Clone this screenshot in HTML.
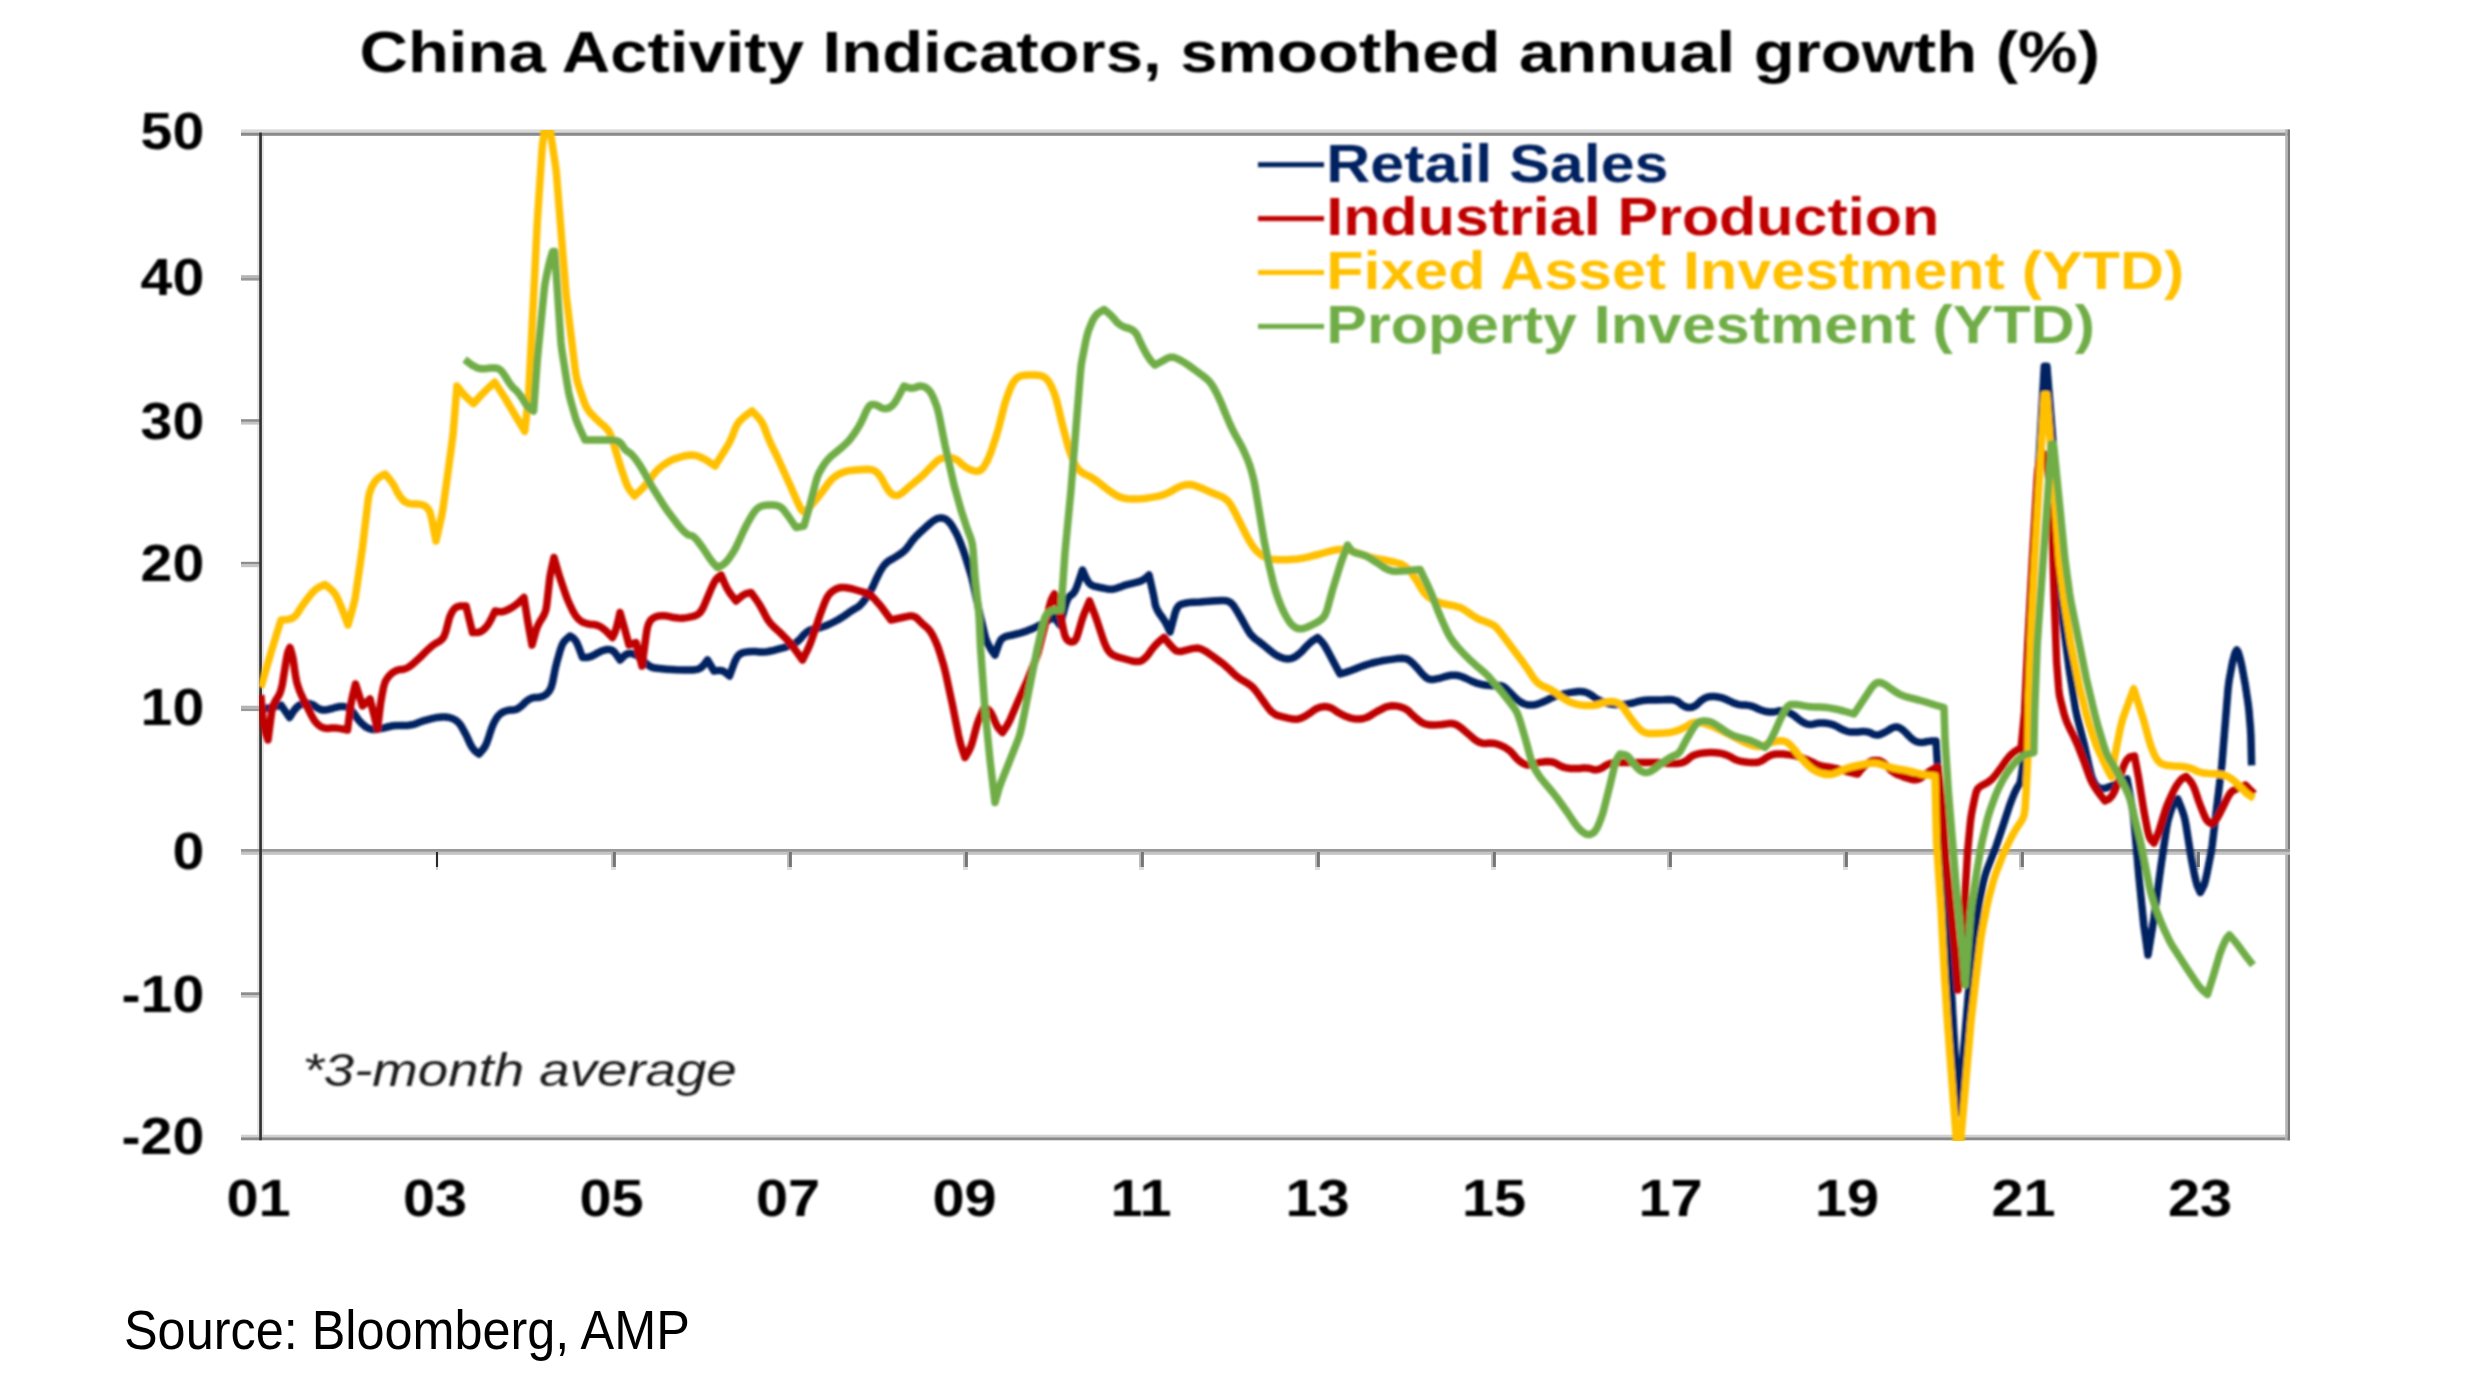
<!DOCTYPE html>
<html><head><meta charset="utf-8"><title>China Activity Indicators</title>
<style>
html,body{margin:0;padding:0;background:#fff;}
body{width:2480px;height:1395px;overflow:hidden;font-family:"Liberation Sans",sans-serif;}
svg{display:block;position:absolute;left:0;top:0;}
</style></head><body>
<svg width="2480" height="1395" viewBox="0 0 2480 1395">
<defs>
<clipPath id="plot"><rect x="259.2" y="130" width="2036" height="1011"/></clipPath>
<filter id="soft" x="-2%" y="-2%" width="104%" height="104%"><feGaussianBlur stdDeviation="1.2"/></filter>
<filter id="softa" x="-2%" y="-2%" width="104%" height="104%"><feGaussianBlur stdDeviation="0.45"/></filter>
<filter id="softt" x="-2%" y="-20%" width="104%" height="140%"><feGaussianBlur stdDeviation="1.3"/></filter>
</defs>
<rect width="2480" height="1395" fill="#ffffff"/>
<g>

</g><g filter="url(#softa)">
<rect x="257.1" y="135" width="6.8" height="1003" fill="#e4e4e4"/>
<rect x="241" y="129.4" width="2049" height="3.2" fill="#d8d8d8"/>
<rect x="241" y="132.6" width="2049" height="3.2" fill="#8a8a8a"/>
<rect x="241" y="1134.7" width="2049" height="2.6" fill="#d0d0d0"/>
<rect x="241" y="1137.3" width="2049" height="3" fill="#8a8a8a"/>
<rect x="2285.2" y="129.4" width="2.5" height="1010.9" fill="#b4b4b4"/>
<rect x="2287.7" y="129.4" width="2.3" height="1010.9" fill="#7a7a7a"/>
<rect x="241" y="849" width="2049" height="2.9" fill="#999999"/>
<rect x="241" y="851.9" width="2049" height="2.9" fill="#c4c4c4"/>
<rect x="241" y="275.2" width="20" height="2.7" fill="#b4b4b4"/>
<rect x="241" y="277.9" width="20" height="2.7" fill="#9a9a9a"/>
<rect x="241" y="419.2" width="20" height="2.7" fill="#8c8c8c"/>
<rect x="241" y="421.9" width="20" height="2.7" fill="#c4c4c4"/>
<rect x="241" y="561.8" width="20" height="2.7" fill="#8c8c8c"/>
<rect x="241" y="564.5" width="20" height="2.7" fill="#c4c4c4"/>
<rect x="241" y="705.7" width="20" height="2.7" fill="#b4b4b4"/>
<rect x="241" y="708.4" width="20" height="2.7" fill="#9a9a9a"/>
<rect x="241" y="992.3" width="20" height="2.7" fill="#8c8c8c"/>
<rect x="241" y="995.0" width="20" height="2.7" fill="#c4c4c4"/>
<rect x="435.95" y="852" width="2.1" height="15" fill="#2c2c2c"/>
<rect x="435.95" y="867" width="2.1" height="3" fill="#cccccc"/>
<rect x="611.10" y="852" width="1.9" height="15" fill="#b8b8b8"/>
<rect x="613.00" y="852" width="2.9" height="15" fill="#757575"/>
<rect x="611.10" y="867" width="4.8" height="3" fill="#dddddd"/>
<rect x="787.10" y="852" width="1.9" height="15" fill="#b8b8b8"/>
<rect x="789.00" y="852" width="2.9" height="15" fill="#757575"/>
<rect x="787.10" y="867" width="4.8" height="3" fill="#dddddd"/>
<rect x="963.10" y="852" width="1.9" height="15" fill="#b8b8b8"/>
<rect x="965.00" y="852" width="2.9" height="15" fill="#757575"/>
<rect x="963.10" y="867" width="4.8" height="3" fill="#dddddd"/>
<rect x="1139.10" y="852" width="1.9" height="15" fill="#b8b8b8"/>
<rect x="1141.00" y="852" width="2.9" height="15" fill="#757575"/>
<rect x="1139.10" y="867" width="4.8" height="3" fill="#dddddd"/>
<rect x="1315.10" y="852" width="1.9" height="15" fill="#b8b8b8"/>
<rect x="1317.00" y="852" width="2.9" height="15" fill="#757575"/>
<rect x="1315.10" y="867" width="4.8" height="3" fill="#dddddd"/>
<rect x="1491.10" y="852" width="1.9" height="15" fill="#b8b8b8"/>
<rect x="1493.00" y="852" width="2.9" height="15" fill="#757575"/>
<rect x="1491.10" y="867" width="4.8" height="3" fill="#dddddd"/>
<rect x="1667.10" y="852" width="1.9" height="15" fill="#b8b8b8"/>
<rect x="1669.00" y="852" width="2.9" height="15" fill="#757575"/>
<rect x="1667.10" y="867" width="4.8" height="3" fill="#dddddd"/>
<rect x="1843.10" y="852" width="1.9" height="15" fill="#b8b8b8"/>
<rect x="1845.00" y="852" width="2.9" height="15" fill="#757575"/>
<rect x="1843.10" y="867" width="4.8" height="3" fill="#dddddd"/>
<rect x="2019.10" y="852" width="1.9" height="15" fill="#b8b8b8"/>
<rect x="2021.00" y="852" width="2.9" height="15" fill="#757575"/>
<rect x="2019.10" y="867" width="4.8" height="3" fill="#dddddd"/>
<rect x="2195.10" y="852" width="1.9" height="15" fill="#b8b8b8"/>
<rect x="2197.00" y="852" width="2.9" height="15" fill="#757575"/>
<rect x="2195.10" y="867" width="4.8" height="3" fill="#dddddd"/>
<rect x="259.2" y="132.6" width="2.7" height="1007.7" fill="#333333"/>
</g>
<g clip-path="url(#plot)"><g filter="url(#soft)" fill="none" stroke-linejoin="round" stroke-linecap="butt" stroke-width="7.5">
<polyline stroke="#002060" points="260.8,709.0 267.4,708.2 270.8,707.6 273.4,707.1 276.2,706.4 281.0,705.0 289.5,717.5 294.0,710.5 296.8,707.2 299.3,705.3 302.2,704.1 305.3,703.4 308.3,703.4 311.1,704.1 313.8,705.3 316.2,707.2 318.6,708.6 320.8,709.5 322.8,710.0 324.7,710.0 326.9,709.8 329.4,709.2 332.2,708.5 335.3,707.5 338.3,706.8 341.1,706.5 343.8,706.6 346.2,706.9 348.7,708.1 351.0,709.9 353.6,712.9 356.4,717.1 359.0,720.5 361.3,723.1 363.8,725.3 366.2,727.2 368.8,728.5 371.2,729.3 373.8,729.6 376.2,729.4 379.1,728.9 382.2,728.3 385.6,727.5 389.4,726.5 393.1,725.8 396.9,725.4 400.6,725.4 404.4,725.6 408.1,725.4 411.8,724.8 415.6,723.8 419.4,722.2 423.2,720.9 427.0,719.8 431.7,718.6 437.3,717.4 441.9,716.9 445.6,717.0 449.1,717.5 452.4,718.5 455.4,720.0 458.1,722.1 460.3,724.7 462.2,727.8 464.0,731.1 465.8,734.4 467.7,738.4 469.8,743.1 471.7,746.6 473.3,749.0 475.3,751.2 479.0,754.0 482.9,749.5 485.0,746.5 486.4,743.6 488.2,738.8 490.3,732.2 492.0,727.2 493.4,723.9 494.9,720.9 496.6,718.1 498.3,715.8 500.2,713.9 502.2,712.5 504.3,711.5 506.5,710.8 508.8,710.2 511.2,710.0 513.8,710.0 516.3,709.3 519.0,707.9 522.0,705.5 525.5,702.0 528.7,699.6 531.6,698.2 534.7,697.5 537.8,697.5 540.7,697.0 543.3,696.1 545.7,694.7 547.8,692.8 549.6,690.4 551.1,687.5 552.6,682.2 555.2,668.9 557.1,661.2 560.3,650.0 562.1,645.0 563.6,642.2 565.8,639.7 570.0,636.0 573.4,638.2 575.2,640.2 576.7,642.6 578.7,647.2 582.5,657.5 586.7,657.5 589.4,657.0 591.9,656.1 594.7,654.7 597.8,652.8 600.8,651.3 603.6,650.3 606.2,649.6 608.8,649.4 611.1,649.9 613.3,651.1 615.8,653.8 620.0,660.0 624.2,655.8 626.7,654.1 628.9,653.4 631.2,653.4 633.8,654.1 636.3,655.2 639.0,657.0 642.0,659.5 645.5,663.0 648.7,665.5 651.6,667.1 654.7,668.1 659.4,668.6 666.5,669.2 676.0,669.8 684.0,670.0 693.0,670.0 697.5,669.4 700.4,668.1 703.3,665.6 707.5,660.0 714.0,671.0 718.8,670.4 721.3,670.6 723.3,671.2 725.6,672.6 729.5,676.0 734.8,661.5 737.3,656.6 739.5,654.4 742.2,652.9 745.3,652.1 748.6,651.7 752.0,651.5 755.6,651.6 759.4,651.9 763.2,652.0 767.0,651.7 771.9,650.8 778.1,649.2 782.9,647.9 786.4,646.8 789.7,645.6 792.8,644.4 795.8,642.7 798.6,640.5 801.2,637.8 803.8,634.7 806.6,632.2 809.7,630.3 813.1,629.1 816.9,628.4 820.6,627.5 824.3,626.3 828.7,624.5 833.8,622.0 838.1,619.7 841.4,617.7 844.7,615.6 849.4,612.2 853.1,609.8 855.3,608.5 857.2,607.5 859.2,606.0 861.4,603.9 863.7,601.2 866.3,597.8 868.6,594.5 870.6,591.0 872.7,586.9 875.9,579.7 878.5,574.5 880.3,571.1 882.2,567.9 884.2,565.1 886.4,562.8 888.8,560.9 892.5,558.9 897.8,555.6 901.9,552.8 904.3,550.8 906.5,548.6 908.4,546.2 910.1,543.8 911.9,541.2 914.0,538.8 916.2,536.2 920.0,532.5 925.5,527.4 930.4,523.1 933.2,520.9 935.7,519.4 937.8,518.4 939.7,518.1 941.5,518.0 943.2,518.2 944.9,518.8 946.6,519.7 948.3,521.2 950.2,523.3 952.2,526.2 954.3,529.8 956.3,533.4 958.0,537.0 960.1,541.9 963.6,551.3 966.1,558.8 971.4,576.2 973.3,583.9 980.0,615.0 984.1,632.2 985.5,637.6 986.5,640.5 987.5,643.0 988.5,645.0 989.6,646.9 990.7,648.8 992.2,651.1 995.0,655.0 998.5,644.7 1000.7,640.2 1002.8,638.0 1006.0,636.4 1012.5,635.0 1020.9,632.8 1025.5,631.4 1028.9,630.1 1032.2,628.8 1036.9,626.5 1043.5,623.0 1054.0,617.0 1060.0,625.0 1065.4,605.2 1067.2,600.1 1068.6,597.5 1070.3,595.6 1072.2,594.4 1073.9,592.5 1075.5,590.0 1077.5,584.9 1082.5,570.0 1086.2,578.5 1088.5,582.4 1090.7,584.6 1093.8,586.1 1100.0,587.5 1107.0,588.9 1110.9,589.2 1114.1,588.9 1117.2,588.1 1120.3,586.9 1123.6,585.7 1127.1,584.6 1131.3,583.6 1136.2,582.4 1140.0,581.3 1142.7,580.1 1145.3,578.4 1149.0,575.0 1153.1,593.1 1154.5,600.0 1155.2,604.5 1156.2,607.5 1157.6,610.5 1159.4,613.5 1161.6,616.5 1163.6,619.4 1165.4,622.3 1167.2,625.8 1170.0,632.0 1175.0,613.2 1176.9,608.2 1178.7,605.9 1180.9,604.4 1183.6,603.6 1186.3,603.0 1189.2,602.6 1193.0,602.3 1200.0,602.0 1212.5,601.0 1222.6,600.4 1227.5,601.0 1230.6,602.6 1233.6,605.7 1237.9,612.6 1241.9,619.5 1247.3,629.2 1250.3,633.9 1252.7,636.6 1255.3,639.0 1258.2,641.0 1261.1,643.2 1264.0,645.5 1267.1,648.1 1270.4,650.9 1273.5,653.3 1276.6,655.3 1279.7,656.9 1282.8,658.1 1285.8,658.8 1288.6,658.9 1291.2,658.5 1293.8,657.5 1296.3,656.0 1298.9,654.0 1302.0,651.2 1305.5,647.3 1308.4,644.4 1310.7,642.3 1313.3,640.3 1317.5,637.5 1321.2,641.2 1323.3,643.7 1325.0,646.2 1327.5,650.6 1332.5,660.0 1340.0,674.0 1345.6,672.3 1349.1,671.2 1353.7,669.5 1359.4,667.2 1363.2,665.9 1366.9,664.6 1370.6,663.5 1374.4,662.5 1378.2,661.6 1382.0,660.8 1387.9,659.9 1397.1,658.6 1402.5,658.2 1405.4,658.6 1407.8,659.4 1409.7,660.6 1411.7,662.3 1414.0,664.5 1417.6,668.4 1422.4,674.1 1426.2,677.7 1428.7,679.1 1431.2,679.6 1433.8,679.4 1436.4,678.9 1439.2,678.3 1442.2,677.5 1445.3,676.5 1448.3,675.8 1451.1,675.3 1453.8,675.2 1456.2,675.3 1459.0,675.8 1462.1,676.8 1466.2,678.5 1471.3,681.0 1475.7,682.8 1479.4,683.9 1483.1,684.8 1486.9,685.2 1490.3,685.6 1493.4,685.7 1496.2,685.6 1498.8,685.4 1501.1,685.7 1503.3,686.5 1505.8,688.3 1510.0,692.5 1515.6,698.1 1518.8,700.8 1521.4,702.5 1524.1,703.8 1526.9,704.7 1529.7,705.1 1532.5,705.1 1535.3,704.7 1538.2,703.8 1541.1,702.8 1544.1,701.5 1547.2,700.1 1550.3,698.4 1553.6,697.0 1557.0,695.8 1560.6,694.7 1566.2,693.4 1571.4,692.4 1574.7,691.9 1577.8,691.6 1580.6,691.5 1583.1,691.7 1585.3,692.1 1587.2,692.9 1589.1,693.8 1590.9,694.9 1592.8,696.2 1594.7,697.8 1597.0,699.2 1599.8,700.6 1603.1,701.9 1606.9,703.1 1610.7,704.0 1614.6,704.5 1618.9,704.6 1623.6,704.4 1627.8,703.9 1631.3,703.3 1634.7,702.5 1637.8,701.5 1641.2,700.8 1644.7,700.2 1648.9,700.0 1656.0,700.0 1663.8,699.8 1669.4,699.4 1672.8,699.7 1675.9,700.7 1678.8,702.2 1681.2,704.3 1683.7,705.9 1686.1,707.0 1688.4,707.5 1690.6,707.5 1692.8,707.0 1695.0,705.9 1697.2,704.3 1699.3,702.2 1701.4,700.4 1703.4,699.0 1705.3,697.9 1707.2,697.1 1709.4,696.7 1711.9,696.5 1714.7,696.6 1717.8,696.9 1721.1,697.7 1724.4,698.7 1728.0,700.3 1732.0,702.2 1735.6,703.7 1738.9,704.6 1742.2,705.0 1745.3,705.0 1748.4,705.4 1751.6,706.1 1754.7,707.2 1757.8,708.8 1760.8,710.0 1763.6,710.9 1766.2,711.6 1768.8,711.9 1771.2,712.1 1773.8,711.9 1776.2,711.6 1778.8,710.9 1781.2,710.7 1783.8,710.9 1786.2,711.5 1788.8,712.5 1791.2,713.8 1793.8,715.3 1796.2,717.2 1798.8,719.3 1801.1,721.1 1803.3,722.4 1805.3,723.4 1807.2,724.1 1809.2,724.4 1811.4,724.4 1813.8,724.1 1816.2,723.4 1818.9,723.1 1821.7,722.9 1824.7,723.1 1827.8,723.4 1830.9,724.2 1834.1,725.2 1837.2,726.6 1840.3,728.4 1843.1,729.8 1845.6,730.8 1847.8,731.6 1849.7,731.9 1852.0,732.1 1854.8,732.1 1858.1,731.9 1861.9,731.6 1865.2,731.6 1868.2,732.0 1870.7,732.9 1872.8,734.1 1875.0,734.8 1877.2,735.0 1879.4,734.7 1881.6,733.8 1883.9,732.8 1886.3,731.5 1888.8,730.1 1891.2,728.4 1893.6,727.4 1895.8,727.0 1897.8,727.1 1899.7,727.9 1901.7,729.1 1903.9,730.9 1906.2,733.1 1908.8,735.9 1911.1,738.1 1913.3,739.9 1915.3,741.1 1917.2,741.9 1919.2,742.3 1921.4,742.4 1923.8,742.2 1926.2,741.8 1928.5,741.4 1930.5,741.1 1932.6,741.0 1936.0,741.0 1937.5,765.0 1940.0,800.0 1951.3,988.0 1958.4,1113.0 1968.9,988.0 1976.6,920.0 1979.6,901.0 1983.1,883.3 1984.5,877.5 1985.6,873.7 1987.6,868.1 1993.3,853.7 1996.1,846.2 2003.3,824.7 2008.8,807.8 2011.5,800.3 2014.3,793.4 2015.9,790.0 2017.1,787.7 2018.1,786.1 2018.9,785.3 2019.7,783.6 2020.4,781.2 2021.2,777.3 2022.4,769.0 2023.2,761.0 2026.0,700.0 2030.0,620.0 2033.5,560.0 2044.3,366.2 2046.9,366.2 2053.0,443.0 2060.3,580.0 2062.4,615.0 2063.1,623.0 2069.3,670.0 2075.4,708.4 2077.0,716.3 2084.6,746.0 2089.7,769.0 2091.1,774.5 2092.1,777.7 2093.3,780.6 2094.5,783.2 2095.9,785.2 2097.3,786.7 2098.9,787.8 2100.5,788.2 2102.3,788.4 2104.3,788.3 2106.4,787.9 2108.6,787.1 2111.2,786.1 2115.6,784.3 2127.0,779.0 2133.0,812.1 2134.0,820.0 2138.8,875.5 2143.9,926.0 2148.0,955.0 2154.0,917.8 2160.8,867.0 2166.4,828.9 2167.5,823.0 2168.4,819.1 2169.9,814.1 2172.0,807.9 2173.6,803.7 2174.6,801.6 2175.8,800.1 2177.7,799.0 2181.7,809.0 2183.5,814.2 2184.6,818.0 2185.8,823.9 2191.3,858.5 2194.8,876.2 2196.1,881.6 2196.9,884.6 2198.1,887.7 2200.3,892.4 2202.8,887.7 2204.2,884.6 2205.1,881.6 2206.4,876.2 2210.8,853.9 2212.1,846.0 2216.7,807.7 2221.8,765.4 2228.1,688.3 2229.1,680.4 2231.8,665.9 2232.8,661.1 2233.6,658.2 2234.2,655.8 2234.9,653.8 2235.4,652.2 2236.0,651.1 2236.8,650.0 2237.6,651.1 2238.2,652.4 2238.8,654.1 2239.5,656.5 2240.7,661.0 2242.2,667.9 2245.2,684.3 2247.9,702.0 2248.9,710.0 2250.4,727.8 2250.9,735.8 2251.6,765.4"/>
<polyline stroke="#c00000" points="260.8,695.0 263.0,719.5 263.7,725.3 264.4,728.8 265.6,733.0 268.0,740.0 271.5,712.9 272.6,707.2 274.0,703.6 275.7,700.3 277.8,697.2 279.6,693.9 280.9,690.3 282.3,684.6 286.2,660.4 287.2,655.1 287.8,652.5 288.6,650.3 290.0,647.5 291.7,653.1 292.6,656.6 293.2,659.8 294.0,665.1 295.0,672.4 295.9,677.8 296.6,681.4 297.5,684.7 298.5,687.8 299.7,691.1 301.1,694.4 303.2,698.9 307.5,707.5 311.8,716.1 314.2,720.2 316.2,722.8 318.4,724.9 320.6,726.6 323.0,727.7 325.5,728.3 328.1,728.4 330.9,728.1 333.7,727.9 336.7,728.1 340.5,728.6 347.5,730.0 350.0,710.4 350.9,704.5 351.6,700.6 352.8,695.0 355.5,684.0 362.5,706.0 370.0,699.0 377.5,729.0 380.5,704.0 381.8,696.1 383.6,687.0 385.0,682.3 386.7,679.1 388.8,676.2 391.2,673.8 393.9,671.8 396.7,670.4 399.7,669.6 402.8,669.4 405.9,668.5 408.9,667.0 412.8,664.1 420.0,657.5 427.3,650.2 431.1,646.7 433.9,644.6 436.8,642.8 439.7,641.2 442.1,639.2 444.0,636.5 445.9,631.2 448.1,622.8 449.6,617.3 450.9,614.3 452.2,611.6 453.8,609.4 455.5,607.7 457.5,606.6 460.4,606.0 466.0,606.0 472.5,632.5 477.3,632.5 479.9,632.0 482.0,630.9 484.0,629.3 486.0,627.2 487.9,624.8 489.6,622.1 491.6,618.3 495.0,611.0 499.2,611.8 501.9,611.8 504.4,611.2 507.2,610.1 510.3,608.4 513.2,606.7 515.9,604.8 518.9,602.3 524.0,597.5 527.5,620.0 532.0,645.0 535.4,632.7 537.2,627.1 538.8,623.6 540.7,620.3 542.8,617.2 544.5,613.8 545.8,610.3 546.8,604.5 549.2,583.0 549.9,577.0 550.6,573.1 551.7,567.7 554.0,557.5 559.0,575.0 564.9,592.4 567.0,598.1 568.5,601.8 570.5,606.2 573.0,611.3 575.3,615.2 577.3,617.8 579.4,619.9 581.6,621.6 584.2,622.8 587.2,623.8 590.6,624.4 594.4,624.6 597.9,625.5 601.2,627.1 605.2,630.2 612.5,637.5 614.5,633.3 615.6,630.4 616.4,627.5 617.7,622.7 620.0,612.5 625.0,630.0 629.0,645.0 636.0,642.5 642.0,666.0 646.4,632.9 647.4,627.5 648.3,624.6 649.4,622.2 650.6,620.3 652.2,618.8 654.1,617.5 656.2,616.6 658.8,615.9 661.6,615.7 664.8,615.8 668.8,616.4 673.7,617.6 678.1,618.1 682.0,618.2 687.0,617.6 693.0,616.4 697.5,614.7 700.2,612.4 703.1,607.9 707.5,597.5 711.9,587.1 714.2,582.4 715.7,580.0 717.6,577.8 721.0,575.0 724.7,583.5 726.8,587.9 728.7,591.1 731.2,594.8 736.0,601.0 740.5,597.1 742.9,595.2 744.8,594.2 747.1,593.3 751.0,592.5 756.1,599.5 758.8,603.5 760.8,606.9 763.2,611.2 765.8,616.3 768.3,620.5 770.6,623.5 773.8,626.9 780.0,632.5 785.6,638.1 788.7,641.4 791.1,644.3 794.6,649.0 802.5,660.0 806.8,651.4 809.0,646.7 810.5,643.0 812.5,637.4 820.0,615.0 824.7,602.5 827.1,597.3 829.0,594.5 831.2,592.2 833.8,590.3 836.2,588.9 838.8,588.0 841.2,587.5 843.8,587.5 846.4,587.7 849.1,588.2 852.8,589.0 859.5,591.0 865.4,592.7 868.7,594.1 871.2,595.9 873.8,598.1 876.2,600.9 878.7,603.7 882.4,608.2 891.0,620.0 902.5,617.5 909.0,616.1 912.4,616.0 914.9,616.8 917.2,618.4 919.3,620.6 921.4,622.7 923.4,624.6 925.3,626.2 927.2,627.8 929.0,629.8 930.9,632.3 932.8,635.5 934.7,639.5 936.4,643.3 937.9,647.0 939.8,652.7 943.9,666.2 945.8,673.9 952.5,705.0 958.4,734.7 959.7,740.5 960.7,744.3 962.2,749.1 965.0,757.5 968.4,751.9 970.1,748.4 971.4,745.2 973.0,739.8 975.5,730.2 977.1,724.5 978.4,720.7 980.3,716.0 984.0,707.5 987.4,708.9 989.3,710.5 990.8,712.6 992.7,716.2 994.8,721.3 996.6,725.1 998.0,727.5 999.7,729.7 1002.5,732.5 1006.2,726.9 1008.2,723.5 1009.8,720.4 1012.1,715.1 1017.5,702.5 1027.5,680.0 1034.5,662.4 1036.6,656.8 1037.9,653.0 1039.4,647.2 1045.0,625.0 1049.1,607.8 1050.5,602.5 1051.4,599.8 1052.5,597.4 1054.5,594.0 1057.0,601.6 1058.4,605.9 1059.3,609.6 1060.6,615.3 1063.4,629.7 1064.7,634.9 1065.7,637.5 1066.9,639.4 1068.1,640.6 1069.4,641.5 1070.8,641.9 1072.2,641.9 1073.8,641.6 1075.1,640.3 1076.4,638.2 1078.1,633.3 1080.4,625.2 1082.1,619.5 1083.4,615.7 1085.4,610.6 1089.5,601.0 1094.5,613.8 1097.2,621.3 1102.5,637.4 1104.4,642.8 1105.8,645.9 1107.2,648.8 1108.8,651.2 1110.8,653.4 1113.2,655.1 1117.1,656.8 1125.0,659.0 1132.0,661.0 1135.6,661.6 1138.1,661.6 1140.3,661.2 1142.2,660.3 1144.2,658.8 1146.3,656.8 1148.7,653.9 1151.3,650.1 1153.8,647.0 1156.1,644.4 1158.9,641.7 1164.0,637.5 1169.2,643.9 1171.8,646.7 1173.4,648.4 1175.1,650.1 1177.1,651.1 1179.4,651.4 1182.2,651.2 1185.3,650.3 1188.3,649.6 1191.1,648.9 1193.8,648.4 1196.2,648.1 1198.9,648.3 1201.7,649.2 1205.5,651.2 1212.5,656.0 1219.5,661.1 1223.4,664.0 1226.3,666.6 1229.5,669.5 1233.0,673.0 1236.2,675.9 1239.4,678.3 1243.0,680.6 1247.0,682.9 1250.5,685.3 1253.4,687.9 1256.7,691.9 1262.5,700.0 1268.3,708.1 1271.5,711.8 1274.3,713.8 1277.2,715.3 1281.9,716.6 1288.1,718.1 1292.8,719.1 1295.8,719.2 1298.6,718.9 1301.2,718.1 1303.8,716.9 1306.2,715.5 1308.8,713.9 1311.2,712.2 1313.8,710.3 1316.3,708.8 1319.0,707.7 1321.8,706.9 1324.7,706.6 1327.5,706.8 1330.3,707.6 1333.1,709.0 1335.9,711.0 1338.7,712.8 1341.7,714.4 1344.7,715.9 1347.8,717.1 1350.9,718.1 1354.1,718.7 1357.2,719.0 1360.3,719.0 1363.4,718.5 1366.6,717.5 1369.7,716.0 1372.8,714.0 1375.9,712.1 1379.1,710.4 1382.2,708.8 1385.3,707.2 1388.6,706.3 1392.0,705.8 1395.6,705.9 1399.4,706.6 1402.8,707.7 1405.9,709.2 1408.8,711.2 1411.2,713.8 1413.8,716.1 1416.2,718.3 1418.8,720.3 1421.2,722.2 1424.1,723.6 1427.2,724.5 1430.6,725.0 1434.4,725.0 1438.1,724.8 1441.9,724.5 1445.6,724.1 1449.4,723.4 1452.9,723.6 1456.3,724.6 1460.9,727.6 1469.5,735.0 1475.4,740.1 1479.0,742.2 1482.2,743.2 1485.6,743.4 1489.4,743.1 1493.1,743.2 1496.7,743.9 1500.5,745.3 1504.5,747.2 1507.8,749.3 1510.5,751.4 1512.8,753.8 1514.7,756.2 1516.7,758.5 1518.9,760.5 1521.2,762.2 1523.8,763.8 1526.2,764.7 1528.8,765.0 1531.2,764.7 1533.8,763.8 1536.6,763.1 1539.7,762.4 1543.1,761.9 1546.9,761.6 1550.3,761.7 1553.4,762.3 1556.2,763.4 1558.8,765.1 1561.4,766.4 1564.2,767.4 1567.2,768.1 1570.3,768.4 1573.4,768.6 1576.6,768.6 1579.7,768.4 1582.8,768.1 1585.8,768.0 1588.6,768.2 1591.2,768.8 1593.8,769.7 1596.4,769.8 1599.2,769.2 1602.2,767.8 1605.3,765.7 1608.6,764.1 1612.0,763.0 1616.6,762.5 1625.0,762.5 1640.0,762.5 1652.0,762.5 1657.8,762.6 1661.3,762.8 1664.7,763.1 1667.8,763.4 1670.9,763.6 1674.1,763.6 1677.2,763.4 1680.3,763.1 1683.1,762.3 1685.6,761.2 1687.8,759.7 1689.7,757.8 1691.9,756.2 1694.4,755.0 1697.2,754.1 1700.3,753.4 1703.4,753.0 1706.6,752.7 1709.7,752.5 1712.8,752.5 1715.8,752.7 1718.6,753.0 1721.2,753.4 1723.8,754.1 1726.2,754.9 1728.8,756.0 1731.2,757.2 1733.8,758.8 1736.4,760.0 1739.2,760.9 1742.2,761.6 1745.3,761.9 1748.3,762.2 1751.1,762.4 1753.8,762.5 1756.2,762.5 1758.8,762.0 1761.4,760.9 1764.1,759.3 1766.9,757.2 1769.8,755.6 1772.9,754.5 1776.2,754.0 1779.8,754.0 1783.2,754.1 1786.5,754.4 1789.7,754.8 1792.8,755.2 1795.9,755.9 1799.1,756.8 1802.2,757.9 1806.9,759.8 1812.5,762.2 1816.2,764.1 1818.9,765.2 1821.7,766.0 1824.7,766.6 1827.8,766.9 1830.9,767.4 1834.1,768.1 1838.0,769.0 1845.0,771.0 1857.5,774.0 1861.7,768.9 1864.1,766.4 1865.9,764.6 1867.8,763.1 1869.7,761.9 1871.7,761.0 1873.9,760.5 1876.2,760.4 1878.8,760.6 1881.2,761.5 1883.8,763.1 1886.2,765.3 1888.8,768.2 1891.4,770.7 1894.2,772.7 1897.2,774.4 1900.3,775.6 1903.4,776.8 1906.6,777.8 1909.7,778.8 1912.8,779.7 1915.8,779.8 1918.6,779.2 1921.2,777.8 1923.8,775.7 1926.2,773.8 1928.5,772.1 1930.7,770.6 1933.9,768.8 1935.8,767.7 1936.9,767.3 1938.0,767.0 1942.3,807.7 1945.7,858.5 1950.8,909.0 1955.0,951.7 1958.0,990.0 1963.1,938.7 1963.7,930.7 1965.2,892.4 1967.7,850.0 1970.2,824.0 1970.9,818.0 1971.5,814.1 1972.6,808.2 1974.6,798.6 1975.8,793.5 1976.6,791.0 1977.5,789.2 1978.3,788.2 1979.7,787.0 1981.6,785.7 1984.0,784.4 1987.0,782.9 1989.8,780.9 1992.5,778.6 1995.8,774.8 2001.6,767.0 2006.3,760.2 2009.0,756.9 2011.1,754.6 2013.2,752.8 2015.3,751.2 2017.1,750.1 2018.4,749.3 2019.6,748.9 2021.0,748.8 2024.6,712.0 2027.8,645.0 2032.4,560.0 2037.3,478.0 2037.8,472.0 2038.3,468.1 2039.3,462.6 2041.5,452.0 2044.3,454.2 2045.7,456.2 2046.5,458.7 2047.3,464.0 2051.1,504.0 2051.6,512.0 2054.3,600.0 2056.6,661.6 2058.6,687.5 2059.2,693.5 2059.9,697.4 2061.3,703.2 2063.9,713.3 2065.7,719.0 2067.1,722.7 2069.4,727.8 2074.2,737.4 2077.5,744.7 2084.6,763.0 2088.7,774.5 2090.8,779.8 2092.3,782.9 2093.9,785.8 2096.3,789.5 2099.8,794.2 2105.0,801.0 2108.8,799.1 2110.8,797.3 2112.5,795.1 2114.2,791.9 2116.0,787.7 2117.6,783.8 2119.0,780.0 2120.3,775.9 2121.7,771.5 2123.0,767.7 2124.2,764.8 2125.4,762.2 2126.7,760.1 2128.0,758.5 2129.4,757.3 2131.2,756.6 2134.5,756.0 2138.8,779.0 2143.9,811.0 2147.5,830.1 2148.8,835.4 2149.8,838.0 2151.2,840.2 2154.0,843.0 2156.8,836.5 2158.3,832.6 2159.5,829.2 2161.2,823.7 2163.7,815.4 2165.5,809.7 2166.8,805.9 2168.8,801.2 2171.4,795.5 2173.5,791.1 2175.1,788.0 2176.8,785.2 2178.5,782.8 2180.1,780.7 2181.6,779.1 2183.3,777.9 2186.2,776.4 2190.0,780.7 2192.0,783.5 2193.5,786.4 2195.3,790.9 2198.4,800.2 2201.2,807.7 2204.1,814.9 2205.7,818.4 2207.1,820.6 2208.7,822.2 2211.6,823.8 2214.5,821.4 2216.2,819.5 2217.7,817.3 2219.7,813.7 2223.5,806.0 2227.2,798.4 2229.2,794.8 2230.7,792.7 2232.2,791.2 2233.8,790.3 2235.5,789.4 2238.4,788.0 2245.5,785.0 2250.4,790.0 2252.0,791.6 2252.9,792.7 2254.0,794.0"/>
<polyline stroke="#ffc000" points="260.8,687.5 272.5,647.5 281.0,620.0 288.3,619.4 292.1,618.3 294.7,616.5 297.2,613.8 299.3,610.2 301.6,606.8 303.8,603.5 306.9,599.4 310.6,594.6 313.8,591.1 316.3,588.9 319.4,587.0 325.0,584.5 330.6,589.0 333.5,591.9 335.6,594.8 337.7,598.7 340.9,606.3 343.9,613.8 348.0,625.0 352.8,607.7 354.3,601.9 355.2,598.0 356.1,592.1 362.5,547.5 368.1,500.4 369.1,494.6 370.2,491.0 371.6,487.4 373.4,484.1 375.2,481.2 377.2,478.9 379.9,476.8 385.0,474.0 389.2,478.8 391.5,481.8 393.4,484.7 395.3,488.0 397.2,492.0 399.1,495.2 401.0,497.8 402.8,499.9 404.7,501.6 407.0,502.8 409.8,503.6 413.1,504.0 416.9,504.0 420.2,504.4 423.0,505.1 425.3,506.2 427.2,507.8 428.8,509.9 430.1,512.6 431.5,517.9 436.0,541.0 441.6,516.4 443.0,508.5 448.3,470.0 453.0,435.0 457.0,386.0 461.5,391.6 464.0,394.6 466.1,396.8 468.7,399.3 473.4,403.6 481.4,394.9 486.7,389.6 494.7,382.2 505.0,398.0 515.0,415.0 524.8,431.2 528.2,400.0 528.8,392.0 532.4,320.7 537.4,220.4 542.1,149.0 543.0,141.0 547.4,112.0 555.6,166.2 556.5,174.2 566.2,295.7 575.3,370.6 576.3,376.5 577.1,380.4 578.8,386.1 583.8,401.0 586.0,406.5 588.0,409.8 590.3,412.9 593.0,415.7 595.7,418.5 598.6,421.2 601.5,423.8 604.4,426.2 606.9,428.8 608.8,431.2 610.2,433.8 611.6,437.5 613.6,443.8 620.0,465.0 625.0,479.9 627.0,485.2 628.5,488.1 630.6,491.2 634.5,496.0 640.4,490.4 643.6,487.1 646.1,484.2 649.3,480.1 653.2,474.9 656.6,470.9 659.4,468.1 662.9,465.4 667.1,462.6 671.0,460.4 674.6,458.8 679.4,457.3 685.6,455.7 690.4,455.0 693.9,455.2 697.2,455.9 700.3,457.1 703.3,458.5 706.1,460.0 709.4,462.1 715.0,466.0 725.0,450.0 728.4,444.4 730.2,440.9 731.6,437.8 733.2,434.0 734.7,429.6 736.4,425.9 738.1,423.1 739.9,420.8 742.0,418.9 743.9,417.1 745.8,415.5 748.1,413.8 752.0,411.0 757.6,416.6 760.5,420.1 762.4,423.2 764.4,427.6 767.6,436.2 770.7,443.6 777.5,457.5 790.0,485.0 797.8,502.7 800.0,507.4 801.3,509.6 802.8,511.1 805.0,512.5 817.4,498.0 822.3,491.7 828.2,483.5 831.5,479.5 834.3,477.1 837.2,475.1 840.3,473.4 843.6,472.1 846.9,471.1 850.4,470.4 855.9,469.9 862.8,469.4 867.6,469.2 870.5,469.5 873.1,470.2 875.3,471.2 877.2,472.8 879.0,474.8 880.9,477.3 882.8,480.5 884.7,484.5 886.6,487.7 888.3,490.2 889.9,492.2 891.6,493.8 893.2,494.8 894.7,495.4 896.2,495.6 897.8,495.4 899.5,494.6 901.5,493.4 903.8,491.6 907.5,488.2 913.1,483.5 917.8,479.7 920.8,477.2 923.6,474.6 926.2,471.9 930.0,467.8 933.5,464.3 935.7,462.2 937.8,460.3 940.3,458.9 943.1,458.0 946.2,457.5 949.8,457.5 953.0,458.1 956.0,459.4 958.8,461.2 961.2,463.8 963.9,465.9 966.7,467.8 969.7,469.4 972.8,470.6 975.6,471.2 977.9,471.2 979.9,470.6 981.6,469.4 983.2,467.7 984.7,465.5 986.2,462.8 987.8,459.7 989.2,456.4 990.6,452.9 992.5,447.5 996.2,436.3 998.5,428.6 1003.1,410.3 1004.6,404.5 1005.8,400.7 1007.6,395.6 1009.9,389.4 1011.9,384.8 1013.6,382.0 1015.3,379.7 1017.2,377.8 1019.6,376.4 1022.5,375.5 1027.6,375.0 1034.9,375.0 1040.0,375.5 1042.9,376.4 1045.3,377.8 1047.2,379.7 1049.0,382.0 1050.6,384.8 1052.2,388.1 1053.8,391.9 1055.1,395.7 1056.3,399.5 1057.8,405.3 1062.5,425.0 1067.0,442.3 1068.6,448.0 1069.9,451.8 1071.2,455.6 1072.8,459.4 1074.3,462.7 1075.8,465.5 1077.2,467.8 1078.8,469.7 1080.6,471.4 1082.8,473.0 1085.3,474.4 1088.2,475.6 1091.1,477.2 1094.1,479.1 1098.0,481.9 1105.0,487.5 1110.6,491.7 1113.8,493.8 1116.2,495.3 1118.8,496.5 1121.2,497.5 1124.1,498.2 1127.4,498.8 1131.4,499.0 1136.1,499.0 1140.5,498.8 1144.5,498.5 1150.1,497.6 1157.4,496.4 1162.9,495.0 1166.6,493.6 1170.5,491.7 1174.5,489.3 1178.1,487.4 1181.0,486.1 1183.8,485.2 1186.2,484.8 1188.8,484.6 1191.2,484.8 1193.8,485.3 1197.5,486.6 1203.7,489.1 1215.0,494.0 1222.0,496.8 1225.6,498.9 1228.1,501.2 1230.8,504.9 1235.0,512.5 1242.5,527.5 1246.8,536.1 1249.1,540.4 1251.0,543.5 1252.8,546.2 1254.7,548.8 1256.7,551.0 1258.9,553.1 1261.2,554.9 1263.8,556.6 1266.4,557.8 1269.2,558.8 1272.2,559.4 1275.3,559.6 1278.7,559.8 1282.2,559.8 1287.0,559.7 1293.0,559.3 1298.0,558.9 1301.9,558.3 1307.8,557.1 1320.0,554.0 1330.2,551.1 1335.4,549.9 1338.9,549.5 1342.2,549.4 1345.3,549.6 1348.6,550.2 1352.0,551.0 1356.9,552.6 1363.1,554.9 1368.2,556.6 1372.0,557.7 1377.0,558.7 1386.1,560.3 1393.8,562.0 1399.4,563.5 1402.8,565.0 1405.9,567.1 1408.7,569.7 1411.3,572.8 1413.6,576.0 1415.9,579.3 1418.5,583.6 1421.5,588.9 1424.3,592.9 1426.8,595.5 1429.7,597.8 1432.8,599.7 1436.1,601.3 1439.7,602.6 1443.8,603.8 1451.1,605.2 1455.3,606.2 1457.6,606.8 1459.4,607.2 1461.5,608.2 1464.0,609.6 1467.5,611.9 1472.0,615.1 1476.0,617.6 1479.5,619.4 1483.8,621.1 1488.7,622.9 1492.8,624.8 1495.9,627.1 1499.8,631.4 1510.0,645.0 1522.6,661.8 1527.2,668.3 1533.3,677.6 1536.8,681.9 1539.7,684.3 1543.1,686.2 1546.9,687.8 1550.5,689.5 1553.9,691.5 1557.2,693.7 1560.3,696.3 1563.4,698.4 1566.6,700.3 1569.7,701.9 1572.8,703.1 1576.2,704.1 1579.7,704.9 1583.9,705.4 1588.6,705.6 1592.8,705.5 1596.3,705.0 1599.7,704.1 1602.8,702.9 1605.9,702.0 1609.1,701.6 1612.2,701.6 1615.3,701.9 1618.2,703.1 1620.9,704.9 1623.6,707.9 1627.8,714.2 1632.5,720.6 1636.3,725.3 1638.6,727.9 1640.8,730.0 1642.8,731.5 1644.7,732.5 1647.1,733.2 1650.0,733.6 1655.5,733.5 1664.5,733.0 1670.3,732.4 1673.8,731.6 1677.2,730.6 1680.3,729.4 1683.3,728.0 1686.1,726.6 1688.8,725.1 1691.2,723.4 1694.1,722.5 1697.2,722.2 1700.6,722.5 1704.4,723.5 1708.1,724.7 1711.7,726.1 1717.2,728.6 1730.0,735.0 1740.5,740.4 1745.6,742.8 1749.0,744.2 1752.2,745.3 1755.3,746.2 1758.3,746.5 1761.1,746.3 1763.8,745.6 1766.2,744.4 1768.9,743.3 1771.7,742.3 1774.7,741.6 1777.8,740.9 1780.6,740.7 1783.1,740.9 1785.3,741.5 1787.2,742.5 1789.2,744.0 1791.4,746.1 1794.4,749.6 1798.1,754.4 1801.3,758.3 1803.8,761.1 1806.2,763.8 1808.8,766.2 1811.4,768.4 1814.2,770.3 1817.2,771.9 1820.3,773.1 1823.3,774.0 1826.1,774.5 1828.8,774.6 1831.2,774.4 1833.9,773.8 1836.7,772.8 1839.7,771.6 1842.8,769.9 1846.1,768.5 1849.7,767.3 1854.8,766.0 1865.0,764.0 1870.6,763.2 1874.1,763.1 1877.2,763.5 1880.6,764.4 1884.4,765.6 1888.2,766.7 1892.0,767.7 1897.0,768.7 1906.1,770.3 1913.8,772.0 1919.4,773.5 1922.8,774.3 1925.9,774.9 1929.4,775.4 1935.0,776.0 1936.5,841.0 1941.0,909.0 1944.5,976.0 1947.4,1021.6 1952.5,1089.0 1958.4,1167.0 1965.2,1089.0 1971.0,1021.6 1976.2,976.0 1980.8,938.7 1982.1,930.8 1987.2,904.8 1989.0,897.0 1992.7,883.2 1994.4,877.5 1995.7,873.7 1997.8,868.1 2003.5,853.7 2006.8,846.4 2011.7,836.6 2014.4,831.7 2016.5,828.3 2018.7,825.0 2021.0,821.8 2022.8,818.4 2024.1,814.8 2025.0,809.0 2026.2,790.8 2027.9,757.0 2028.7,695.5 2031.2,627.7 2034.6,560.0 2044.3,394.5 2046.7,394.5 2059.2,560.0 2064.3,602.0 2071.0,644.7 2079.5,687.0 2087.0,717.1 2089.3,724.8 2093.9,738.4 2095.9,744.1 2097.3,747.8 2099.8,753.3 2104.9,764.4 2107.8,770.2 2111.5,777.0 2115.0,755.0 2120.2,728.8 2121.6,723.0 2122.6,719.2 2124.6,713.5 2133.7,688.7 2143.9,721.0 2148.5,738.3 2150.2,744.0 2151.5,747.8 2153.1,751.7 2154.9,755.8 2156.7,759.0 2158.6,761.4 2160.6,763.1 2162.7,764.2 2165.3,765.0 2168.4,765.6 2173.4,766.1 2180.4,766.3 2185.7,766.9 2189.4,767.8 2193.0,769.1 2196.3,770.9 2199.9,772.2 2203.6,773.1 2208.5,773.6 2214.7,773.8 2219.4,774.2 2222.7,774.8 2225.6,775.7 2228.1,776.8 2230.5,778.2 2232.9,779.8 2235.6,782.2 2240.4,787.0 2244.1,790.9 2246.2,793.0 2247.9,794.4 2250.1,795.9 2254.0,798.4"/>
<polyline stroke="#70ad47" points="464.6,359.6 472.5,365.4 477.0,367.8 480.6,368.7 484.8,368.8 489.6,368.1 493.4,367.9 496.2,368.1 498.3,368.6 499.9,369.6 501.5,371.2 503.3,373.4 505.4,376.5 507.8,380.5 510.0,383.8 511.9,386.3 513.8,388.4 515.7,389.9 517.6,392.0 519.6,394.5 522.1,398.1 525.0,402.8 527.3,406.2 529.0,408.2 530.8,409.7 533.6,411.0 537.4,358.4 544.1,291.0 544.8,285.0 545.5,281.1 546.6,275.4 549.0,264.4 550.6,258.2 552.6,251.5 554.6,251.5 556.7,280.6 560.9,341.8 561.8,349.8 567.5,385.6 568.5,391.5 569.3,395.4 570.8,401.2 574.2,413.3 575.9,419.0 577.3,422.8 579.6,428.3 585.0,440.0 601.3,440.0 611.6,440.0 616.4,440.6 619.1,441.9 621.2,443.8 622.8,446.2 624.3,448.4 625.8,450.1 627.4,451.4 629.1,452.3 630.8,453.7 632.7,455.6 634.7,457.9 636.8,460.8 638.9,463.8 640.9,466.9 643.9,472.0 652.5,487.5 662.9,504.1 667.4,510.7 675.2,521.1 678.7,525.6 680.8,528.1 682.8,530.3 684.7,532.2 686.5,533.7 688.2,534.7 689.9,535.4 691.6,535.6 693.3,536.5 695.2,538.1 697.7,541.0 702.5,547.5 708.3,556.3 711.1,560.3 712.9,562.6 714.7,564.7 717.5,567.5 721.7,565.5 724.2,563.8 726.3,561.8 728.7,558.9 731.3,555.1 733.7,551.5 735.6,548.1 738.2,542.7 743.4,531.2 747.0,524.0 751.5,516.1 754.0,512.3 755.9,509.9 757.8,508.1 759.7,506.9 762.1,505.9 765.0,505.3 768.9,505.0 773.6,505.0 777.5,505.6 780.4,506.9 783.3,509.4 787.5,515.0 796.0,527.5 804.0,526.0 810.0,505.0 815.6,482.8 817.3,477.1 818.8,473.4 821.1,469.3 823.9,464.7 826.7,460.9 829.3,458.0 832.2,455.3 836.9,451.5 842.5,446.8 846.2,443.4 848.7,440.9 851.0,438.1 853.6,434.6 856.4,430.4 858.7,426.6 860.7,423.1 863.1,418.2 865.9,411.8 868.1,407.7 869.7,405.7 871.2,404.6 872.8,404.4 874.5,404.6 876.5,405.2 878.8,406.2 881.2,407.8 883.7,408.6 886.1,408.7 888.4,408.1 890.6,406.9 892.8,405.1 894.8,402.7 897.7,397.9 904.0,386.0 908.8,387.7 911.4,388.2 913.6,388.1 915.7,387.5 917.8,386.5 920.0,386.1 922.2,386.2 924.4,386.9 926.6,388.1 928.7,390.0 930.6,392.4 932.7,396.2 934.8,401.3 936.5,405.7 937.7,409.5 939.1,415.3 945.0,445.0 954.0,485.0 961.0,510.0 966.3,526.2 968.8,533.1 970.6,537.8 971.6,541.2 972.4,544.7 973.1,550.5 975.0,577.5 978.6,611.0 979.2,619.0 980.5,647.5 985.0,710.0 990.0,760.0 995.0,802.5 998.9,788.8 1001.5,781.3 1010.0,760.0 1017.0,742.4 1019.1,736.8 1020.2,733.0 1021.6,727.2 1030.0,685.0 1037.5,647.5 1043.2,622.8 1044.8,617.6 1046.2,615.0 1047.8,613.1 1049.7,611.9 1051.6,610.9 1053.6,610.3 1056.2,610.0 1061.0,610.0 1065.0,552.5 1071.0,490.0 1076.0,427.5 1080.4,373.0 1081.0,367.0 1081.5,363.1 1082.6,357.2 1085.9,340.3 1087.3,334.5 1088.5,330.7 1090.2,326.3 1092.3,321.2 1094.4,317.4 1096.3,314.9 1098.9,312.6 1104.0,309.5 1107.9,312.6 1110.2,314.7 1112.2,316.7 1114.4,319.1 1116.6,321.9 1119.2,324.2 1122.2,326.1 1125.6,327.5 1129.4,328.5 1132.6,330.1 1135.2,332.4 1137.2,335.2 1139.5,340.5 1142.9,347.5 1146.1,353.5 1148.0,356.7 1149.7,359.2 1151.6,361.6 1155.0,365.0 1162.5,361.0 1167.3,358.2 1170.1,357.2 1172.6,357.2 1175.3,357.9 1178.2,359.1 1181.1,360.6 1184.1,362.4 1188.0,364.9 1195.0,370.0 1203.8,376.5 1208.1,380.1 1210.6,383.0 1213.2,386.9 1215.8,391.6 1217.9,395.8 1219.6,399.4 1221.6,404.0 1225.0,412.5 1229.4,422.9 1231.8,428.1 1233.6,431.7 1235.6,435.5 1239.0,441.5 1242.7,448.6 1246.2,456.3 1248.0,460.7 1249.4,464.5 1250.8,468.8 1252.2,473.7 1253.3,478.1 1254.2,482.0 1255.3,487.9 1259.0,510.0 1264.0,540.0 1269.0,565.0 1273.1,582.2 1274.7,588.0 1275.8,591.8 1277.6,596.9 1279.9,603.1 1281.9,608.1 1283.6,611.7 1285.6,615.5 1287.9,619.5 1290.1,622.7 1292.2,625.1 1294.4,626.9 1296.6,628.1 1299.1,628.8 1301.8,628.8 1304.7,628.1 1307.8,626.9 1310.9,625.5 1314.1,623.9 1317.2,622.2 1320.3,620.3 1322.9,617.9 1325.0,615.1 1327.1,609.8 1332.5,590.0 1339.8,566.3 1342.4,558.8 1347.5,545.0 1350.3,549.2 1352.3,551.2 1354.5,552.5 1357.2,553.4 1360.3,554.1 1363.4,555.0 1366.6,556.3 1370.5,558.5 1377.5,563.0 1384.5,567.8 1388.6,569.9 1392.0,570.9 1395.6,571.3 1401.2,571.1 1408.8,570.6 1420.0,569.5 1428.2,586.4 1431.4,593.7 1438.6,612.3 1441.7,619.6 1446.7,630.7 1449.4,636.0 1451.5,639.3 1453.8,642.5 1457.5,647.0 1462.8,652.8 1469.7,659.7 1475.6,665.1 1482.2,670.6 1485.8,673.8 1488.7,676.7 1492.5,681.1 1500.0,690.0 1510.0,702.5 1514.2,708.1 1516.4,711.6 1517.9,714.7 1519.8,720.2 1525.0,737.5 1530.4,757.3 1532.2,762.9 1533.6,766.4 1535.3,769.7 1537.2,772.8 1539.2,775.9 1541.5,779.0 1545.1,783.4 1552.4,792.0 1557.3,798.3 1567.5,812.5 1573.3,821.3 1576.3,825.4 1578.4,827.9 1580.3,829.9 1582.2,831.6 1583.9,832.8 1585.5,833.8 1586.9,834.4 1588.1,834.6 1589.4,834.6 1590.8,834.2 1592.2,833.5 1593.8,832.5 1595.3,830.8 1596.8,828.5 1598.4,825.1 1600.1,820.9 1601.6,816.8 1602.9,813.0 1604.4,807.2 1610.0,785.0 1614.1,767.8 1615.5,762.5 1616.5,759.8 1617.8,757.4 1620.0,754.0 1624.2,754.6 1626.6,755.5 1628.4,757.0 1630.3,759.1 1632.2,761.9 1634.1,764.3 1635.9,766.5 1637.8,768.4 1639.7,770.1 1641.6,771.3 1643.4,772.1 1645.3,772.5 1647.2,772.5 1649.4,771.9 1651.9,770.6 1654.7,768.8 1659.4,765.0 1663.6,761.9 1666.2,760.1 1668.8,758.4 1671.0,757.1 1673.1,756.0 1674.9,755.2 1676.6,754.8 1678.2,753.5 1680.0,751.5 1682.0,748.1 1685.7,741.1 1689.6,734.1 1694.0,726.8 1696.7,723.6 1699.3,721.9 1702.2,721.0 1705.3,721.0 1708.3,721.4 1711.1,722.2 1714.4,723.8 1720.0,727.5 1727.0,732.3 1731.1,734.6 1734.6,736.1 1738.8,737.4 1743.7,738.6 1748.0,739.8 1751.7,741.1 1756.4,743.2 1765.0,747.5 1768.4,743.3 1770.3,740.5 1771.9,737.7 1774.3,732.7 1780.0,720.0 1784.3,711.4 1786.6,707.6 1788.5,705.7 1790.3,704.6 1792.2,704.4 1794.5,704.4 1797.3,704.6 1800.6,705.1 1804.4,705.9 1808.1,706.4 1811.9,706.8 1815.6,707.0 1819.4,707.0 1823.1,707.2 1826.9,707.6 1830.6,708.1 1836.2,709.2 1843.5,711.0 1854.0,714.0 1865.0,697.5 1870.8,688.7 1873.8,685.0 1875.9,683.3 1877.8,682.5 1879.7,682.5 1881.7,683.0 1883.9,683.9 1886.2,685.3 1890.0,688.1 1893.8,690.7 1896.2,692.2 1898.8,693.8 1901.6,695.1 1904.8,696.4 1909.4,697.7 1918.6,700.0 1925.6,702.0 1935.0,705.0 1944.0,707.5 1945.0,740.0 1948.3,790.8 1952.5,841.6 1956.7,892.4 1961.8,943.0 1965.3,985.0 1970.7,913.0 1971.6,905.0 1976.2,875.5 1980.6,848.9 1982.2,841.1 1986.2,823.8 1987.7,818.0 1988.8,814.2 1990.7,808.5 1993.8,800.0 1995.9,794.4 1997.5,790.8 1999.5,786.5 2002.0,781.6 2004.3,777.5 2006.4,774.1 2008.8,770.6 2011.5,767.0 2013.9,764.0 2016.2,761.5 2018.3,759.4 2020.5,757.6 2022.7,756.2 2025.0,755.0 2028.1,753.9 2033.8,752.5 2034.6,712.4 2037.2,644.7 2040.3,600.0 2046.9,507.8 2051.3,444.0 2053.5,444.0 2059.9,508.0 2065.0,560.0 2069.5,593.0 2070.8,600.9 2077.8,636.0 2086.3,678.5 2095.5,717.1 2097.6,724.8 2104.3,747.0 2106.2,752.5 2107.6,755.7 2109.2,758.7 2111.7,762.7 2115.3,768.9 2121.6,780.5 2125.2,787.6 2127.8,793.4 2129.3,797.2 2130.6,801.0 2132.1,806.8 2135.4,821.0 2140.5,841.6 2145.6,867.0 2149.8,888.5 2151.8,896.2 2154.5,905.2 2157.2,912.7 2161.0,922.3 2164.2,929.6 2168.0,937.7 2170.2,942.1 2172.1,945.5 2174.7,949.6 2179.4,956.8 2187.9,970.0 2195.3,981.0 2198.5,985.6 2200.6,988.1 2203.1,990.7 2207.4,994.5 2213.3,975.9 2217.8,960.7 2219.5,955.0 2220.8,951.3 2222.2,947.6 2223.8,944.0 2225.1,941.1 2226.3,938.8 2227.5,937.0 2229.4,935.0 2233.7,939.9 2236.1,942.8 2239.1,946.7 2243.4,952.6 2247.4,958.0 2253.0,965.0"/>
</g></g>
<g filter="url(#softt)">
<text transform="translate(359.5,71.5) scale(1.156,1)" font-family="Liberation Sans, sans-serif" font-size="58" font-weight="bold" font-style="normal" fill="#000" text-anchor="start">China Activity Indicators, smoothed annual growth (%)</text>
<rect x="1258" y="162.2" width="66" height="5" fill="#002060"/>
<text transform="translate(1326.3,181.5) scale(1.15,1)" font-family="Liberation Sans, sans-serif" font-size="53" font-weight="bold" font-style="normal" fill="#002060" text-anchor="start">Retail Sales</text>
<rect x="1258" y="216.1" width="66" height="5" fill="#c00000"/>
<text transform="translate(1326.3,235.2) scale(1.15,1)" font-family="Liberation Sans, sans-serif" font-size="53" font-weight="bold" font-style="normal" fill="#c00000" text-anchor="start">Industrial Production</text>
<rect x="1258" y="270.0" width="66" height="5" fill="#ffc000"/>
<text transform="translate(1326.3,289.0) scale(1.15,1)" font-family="Liberation Sans, sans-serif" font-size="53" font-weight="bold" font-style="normal" fill="#ffc000" text-anchor="start">Fixed Asset Investment (YTD)</text>
<rect x="1258" y="323.9" width="66" height="5" fill="#70ad47"/>
<text transform="translate(1326.3,342.8) scale(1.15,1)" font-family="Liberation Sans, sans-serif" font-size="53" font-weight="bold" font-style="normal" fill="#70ad47" text-anchor="start">Property Investment (YTD)</text>
<text transform="translate(204.2,149.4) scale(1.1,1)" font-family="Liberation Sans, sans-serif" font-size="52" font-weight="bold" font-style="normal" fill="#000" text-anchor="end">50</text>
<text transform="translate(204.2,294.7) scale(1.1,1)" font-family="Liberation Sans, sans-serif" font-size="52" font-weight="bold" font-style="normal" fill="#000" text-anchor="end">40</text>
<text transform="translate(204.2,438.7) scale(1.1,1)" font-family="Liberation Sans, sans-serif" font-size="52" font-weight="bold" font-style="normal" fill="#000" text-anchor="end">30</text>
<text transform="translate(204.2,581.3) scale(1.1,1)" font-family="Liberation Sans, sans-serif" font-size="52" font-weight="bold" font-style="normal" fill="#000" text-anchor="end">20</text>
<text transform="translate(204.2,725.2) scale(1.1,1)" font-family="Liberation Sans, sans-serif" font-size="52" font-weight="bold" font-style="normal" fill="#000" text-anchor="end">10</text>
<text transform="translate(204.2,868.7) scale(1.1,1)" font-family="Liberation Sans, sans-serif" font-size="52" font-weight="bold" font-style="normal" fill="#000" text-anchor="end">0</text>
<text transform="translate(204.2,1011.8) scale(1.1,1)" font-family="Liberation Sans, sans-serif" font-size="52" font-weight="bold" font-style="normal" fill="#000" text-anchor="end">-10</text>
<text transform="translate(204.2,1154.4) scale(1.1,1)" font-family="Liberation Sans, sans-serif" font-size="52" font-weight="bold" font-style="normal" fill="#000" text-anchor="end">-20</text>
<text transform="translate(258.5,1216.0) scale(1.11,1)" font-family="Liberation Sans, sans-serif" font-size="52" font-weight="bold" font-style="normal" fill="#000" text-anchor="middle">01</text>
<text transform="translate(435.0,1216.0) scale(1.11,1)" font-family="Liberation Sans, sans-serif" font-size="52" font-weight="bold" font-style="normal" fill="#000" text-anchor="middle">03</text>
<text transform="translate(611.5,1216.0) scale(1.11,1)" font-family="Liberation Sans, sans-serif" font-size="52" font-weight="bold" font-style="normal" fill="#000" text-anchor="middle">05</text>
<text transform="translate(788.0,1216.0) scale(1.11,1)" font-family="Liberation Sans, sans-serif" font-size="52" font-weight="bold" font-style="normal" fill="#000" text-anchor="middle">07</text>
<text transform="translate(964.5,1216.0) scale(1.11,1)" font-family="Liberation Sans, sans-serif" font-size="52" font-weight="bold" font-style="normal" fill="#000" text-anchor="middle">09</text>
<text transform="translate(1141.0,1216.0) scale(1.11,1)" font-family="Liberation Sans, sans-serif" font-size="52" font-weight="bold" font-style="normal" fill="#000" text-anchor="middle">11</text>
<text transform="translate(1317.5,1216.0) scale(1.11,1)" font-family="Liberation Sans, sans-serif" font-size="52" font-weight="bold" font-style="normal" fill="#000" text-anchor="middle">13</text>
<text transform="translate(1494.0,1216.0) scale(1.11,1)" font-family="Liberation Sans, sans-serif" font-size="52" font-weight="bold" font-style="normal" fill="#000" text-anchor="middle">15</text>
<text transform="translate(1670.5,1216.0) scale(1.11,1)" font-family="Liberation Sans, sans-serif" font-size="52" font-weight="bold" font-style="normal" fill="#000" text-anchor="middle">17</text>
<text transform="translate(1847.0,1216.0) scale(1.11,1)" font-family="Liberation Sans, sans-serif" font-size="52" font-weight="bold" font-style="normal" fill="#000" text-anchor="middle">19</text>
<text transform="translate(2023.5,1216.0) scale(1.11,1)" font-family="Liberation Sans, sans-serif" font-size="52" font-weight="bold" font-style="normal" fill="#000" text-anchor="middle">21</text>
<text transform="translate(2200.0,1216.0) scale(1.11,1)" font-family="Liberation Sans, sans-serif" font-size="52" font-weight="bold" font-style="normal" fill="#000" text-anchor="middle">23</text>
<text transform="translate(302.5,1086.0) scale(1.1625,1)" font-family="Liberation Sans, sans-serif" font-size="47" font-weight="normal" font-style="italic" fill="#1a1a1a" text-anchor="start">*3-month average</text>
</g>
<text transform="translate(124.0,1349.0) scale(0.9,1)" font-family="Liberation Sans, sans-serif" font-size="56" font-weight="normal" font-style="normal" fill="#000" text-anchor="start">Source: Bloomberg, AMP</text>
</svg></body></html>
